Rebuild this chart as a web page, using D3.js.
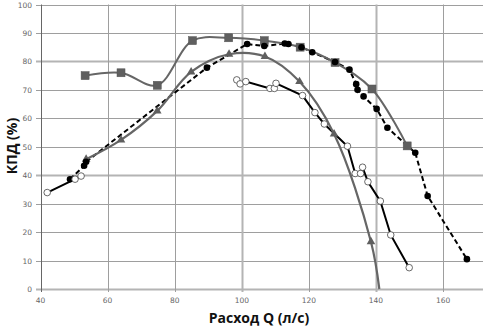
<!DOCTYPE html>
<html>
<head>
<meta charset="utf-8">
<script src="https://cdn.jsdelivr.net/npm/d3@7"></script>
<style>
  html, body { margin: 0; padding: 0; background: #fff; }
  svg { display: block; }
</style>
</head>
<body>
<svg id="chart" width="483" height="328"></svg>
<script>
// data
const xTicks = [40, 60, 80, 100, 120, 140, 160];
const yTicks = [0, 10, 20, 30, 40, 50, 60, 70, 80, 90, 100];

const squareQ   = [53.3, 64.0, 74.8, 85.3, 96.1, 106.7, 117.4, 127.8, 138.8, 149.3];
const squareEff = [75.0, 76.0, 71.6, 87.3, 88.3, 87.3, 85.0, 79.6, 70.3, 50.3];

const triQ   = [53.6, 64.0, 74.8, 84.9, 96.2, 106.9, 117.2, 127.5, 138.5, 141.0];
const triEff = [45.6, 52.4, 62.6, 76.3, 82.5, 81.7, 72.9, 54.5, 16.6, 0];

const dotQ   = [48.8, 53.0, 53.6, 89.6, 101.6, 106.7, 112.8, 113.9, 117.8, 121.0, 127.8, 132.1, 134.1, 134.5, 136.3, 140.2, 143.4, 151.7, 155.4, 167.1];
const dotEff = [38.6, 43.3, 44.7, 77.8, 86.1, 85.4, 86.3, 86.1, 85.0, 83.2, 79.8, 77.1, 72.0, 70.0, 67.7, 63.3, 56.7, 47.9, 32.7, 10.5];

// open circles: two runs, no line between them
const ringQ   = [42.0, 50.3, 52.1, null, 98.5, 99.5, 101.2, 108.4, 109.7, 110.2, 118.1, 121.8, 124.6, 131.5, 133.8, 135.4, 136.0, 137.6, 141.3, 144.4, 149.9];
const ringEff = [33.9, 38.6, 39.7, null, 73.5, 72.1, 72.9, 70.5, 70.5, 72.3, 68.0, 62.0, 58.0, 50.2, 40.6, 40.6, 42.8, 37.7, 30.9, 19.0, 7.5];

const svg = d3.select("#chart");
const x = d3.scaleLinear().domain([40, 171.6]).range([40.5, 482]);
const y = d3.scaleLinear().domain([0, 100]).range([289, 4.5]);

const pts = (xs, ys) => xs.map((q, i) => ({ q, e: ys[i] }));
const squares = pts(squareQ, squareEff);
const tris = pts(triQ, triEff);
const dots = pts(dotQ, dotEff);
const rings = pts(ringQ, ringEff);

// grid
const grid = svg.append("g");
yTicks.forEach(t => {
  const heavy = t === 0 || t === 40 || t === 80;
  grid.append("line")
    .attr("x1", 36).attr("x2", 483)
    .attr("y1", Math.round(y(t)) + 0.5).attr("y2", Math.round(y(t)) + 0.5)
    .attr("stroke", heavy ? "#b4b4b4" : "#9e9e9e")
    .attr("stroke-width", heavy ? 2 : 1);
});
xTicks.forEach(t => {
  const heavy = t === 100 || t === 140;
  grid.append("line")
    .attr("x1", Math.round(x(t)) + 0.5).attr("x2", Math.round(x(t)) + 0.5)
    .attr("y1", y(100)).attr("y2", y(0) + 3)
    .attr("stroke", t === 40 ? "#666" : (heavy ? "#b4b4b4" : "#9e9e9e"))
    .attr("stroke-width", heavy ? 2 : 1);
});

// tick labels
svg.append("g").selectAll("text").data(yTicks).join("text")
  .attr("x", 32).attr("y", d => y(d) + 3)
  .attr("text-anchor", "end")
  .attr("font-family", "DejaVu Sans, sans-serif")
  .attr("font-size", 7.5).attr("fill", "#666")
  .text(d => d);
svg.append("g").selectAll("text").data(xTicks).join("text")
  .attr("x", d => x(d)).attr("y", 303)
  .attr("text-anchor", "middle")
  .attr("font-family", "DejaVu Sans, sans-serif")
  .attr("font-size", 7.5).attr("fill", "#666")
  .text(d => d);

// axis titles
svg.append("text")
  .attr("transform", "translate(17,146) rotate(-90)")
  .attr("text-anchor", "middle")
  .attr("font-family", "Open Sans, sans-serif")
  .attr("font-weight", "bold").attr("font-size", 14).attr("fill", "#111")
  .text("КПД (%)");
svg.append("text")
  .attr("x", 259).attr("y", 323)
  .attr("text-anchor", "middle")
  .attr("font-family", "Open Sans, sans-serif")
  .attr("font-weight", "bold").attr("font-size", 14).attr("fill", "#111")
  .text("Расход Q (л/с)");

// lines
const smooth = d3.line().x(d => x(d.q)).y(d => y(d.e)).curve(d3.curveCatmullRom.alpha(0.5));
const straight = d3.line().defined(d => d.q !== null).x(d => x(d.q)).y(d => y(d.e));

svg.append("path").datum(dots).attr("d", straight)
  .attr("fill", "none").attr("stroke", "#000").attr("stroke-width", 2)
  .attr("stroke-dasharray", "5 3");
svg.append("path").datum(rings).attr("d", straight)
  .attr("fill", "none").attr("stroke", "#000").attr("stroke-width", 2);
svg.append("path").datum(squares).attr("d", smooth)
  .attr("fill", "none").attr("stroke", "#666").attr("stroke-width", 2);
svg.append("path").datum(tris).attr("d", smooth)
  .attr("fill", "none").attr("stroke", "#666").attr("stroke-width", 2.2);

// markers
svg.append("g").selectAll("rect").data(squares).join("rect")
  .attr("x", d => x(d.q) - 4).attr("y", d => y(d.e) - 4)
  .attr("width", 8).attr("height", 8)
  .attr("fill", "#5f5f5f").attr("stroke", "#555").attr("stroke-width", 0.5);
svg.append("g").selectAll("path").data(tris.filter(d => d.e > 0)).join("path")
  .attr("transform", d => `translate(${x(d.q)},${y(d.e)})`)
  .attr("d", d3.symbol(d3.symbolTriangle, 32))
  .attr("fill", "#5f5f5f");
svg.append("g").selectAll("circle").data(dots).join("circle")
  .attr("cx", d => x(d.q)).attr("cy", d => y(d.e)).attr("r", 3.3)
  .attr("fill", "#000");
svg.append("g").selectAll("circle").data(rings.filter(d => d.q !== null)).join("circle")
  .attr("cx", d => x(d.q)).attr("cy", d => y(d.e)).attr("r", 3.3)
  .attr("fill", "#fff").attr("stroke", "#444").attr("stroke-width", 0.8);
</script>
</body>
</html>
